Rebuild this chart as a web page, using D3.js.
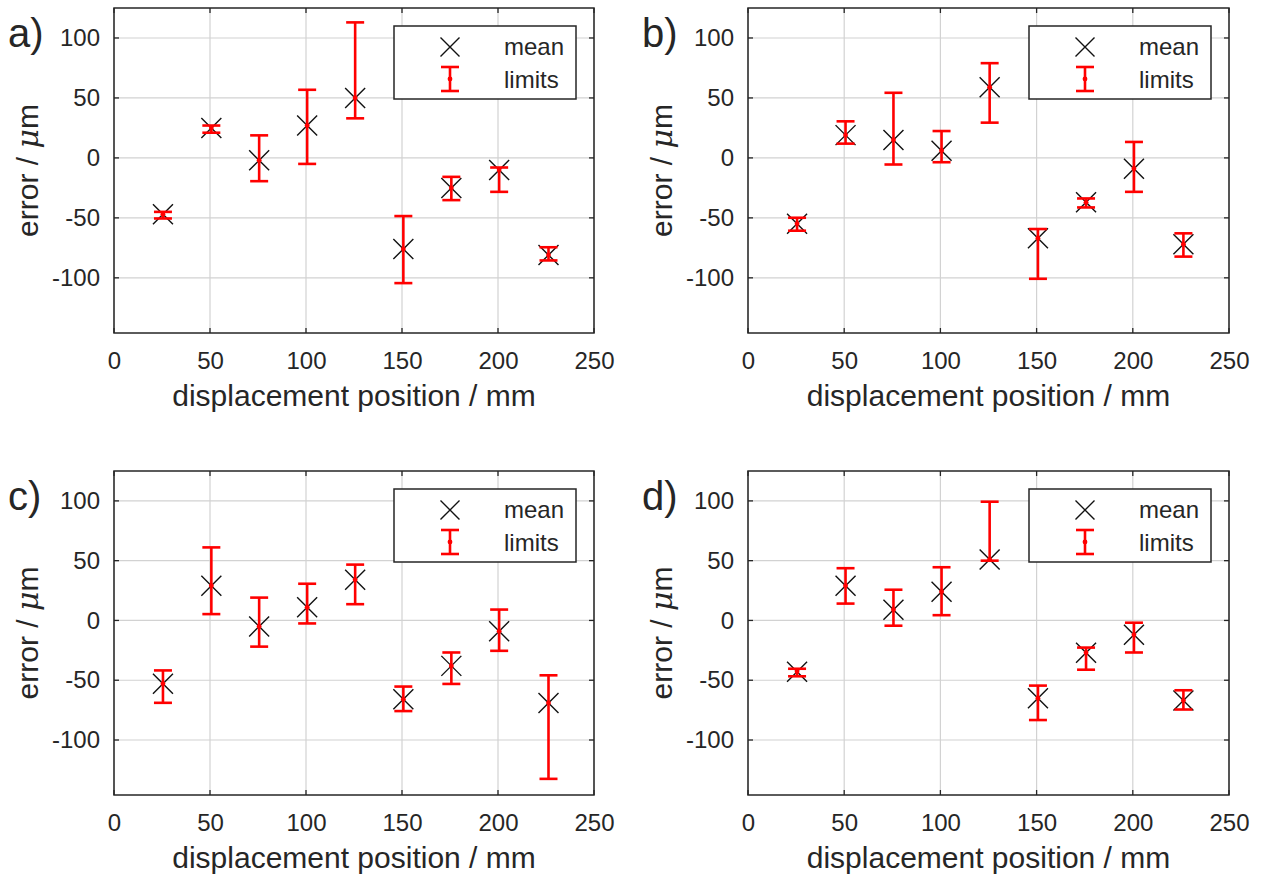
<!DOCTYPE html>
<html><head><meta charset="utf-8">
<script src="https://cdn.jsdelivr.net/npm/d3@7"></script>
<style>
body{margin:0;background:#fff}
svg{display:block}
text{font-family:"Liberation Sans",Arial,sans-serif;fill:#262626}
</style>
</head><body>
<svg id="chart" width="1263" height="880"></svg>
<script>
// ---- data ----
const positions = [25.5, 50.7, 75.6, 100.6, 125.6, 150.7, 175.7, 200.6, 226.3];
const xTicks = [0, 50, 100, 150, 200, 250];
const yTicks = [-100, -50, 0, 50, 100];
const panelLabels = ["a)", "b)", "c)", "d)"];
const legendLabels = ["mean", "limits"];
const xTitle = "displacement position / mm";

const meanA = [-47, 25, -2, 27, 50, -76, -25, -10, -81];
const lowA  = [-50.5, 21, -19.4, -5, 33, -104.4, -35.2, -28.3, -85.5];
const highA = [-45, 27, 18.8, 56.8, 113, -48.5, -15.8, -8, -74.5];

const meanB = [-55, 19, 15, 6, 59, -67, -37, -9, -72];
const lowB  = [-60.7, 11.9, -5.5, -3.6, 29.4, -100.8, -41.3, -28.3, -82.3];
const highB = [-49.9, 30.5, 54.3, 22.4, 79, -59.3, -33.8, 13.3, -62.9];

const meanC = [-53, 29, -5, 11, 34, -66, -38, -9, -69];
const lowC  = [-68.9, 5.3, -21.9, -2.5, 13.6, -75.8, -53.1, -25.4, -132.5];
const highC = [-41.8, 61.1, 19.1, 30.7, 46.7, -55.3, -26.8, 9.1, -45.9];

const meanD = [-43, 29, 9, 24, 51, -65, -27, -12, -67];
const lowD  = [-46.7, 14.1, -4.4, 4.4, 50, -83.3, -41.2, -26.8, -74.5];
const highD = [-40.4, 43.7, 25.7, 44.5, 99.3, -54.5, -22.7, -1.9, -58.4];

const xDomain = [0, 250];
const yDomain = [-146, 125];

// ---- layout ----
const layout = [
  {left: 114, right: 594, top: 8, bottom: 333},
  {left: 748, right: 1229, top: 8, bottom: 333},
  {left: 114, right: 594, top: 471, bottom: 795},
  {left: 748, right: 1229, top: 471, bottom: 795}
];
const series = [
  [meanA, lowA, highA], [meanB, lowB, highB], [meanC, lowC, highC], [meanD, lowD, highD]
];

const svg = d3.select("#chart");
const RED = "#ff0000", FRAME = "#262626", GRID = "#d2d2d2";

function xPath(cx, cy, h) {
  return `M${cx-h},${cy-h}L${cx+h},${cy+h}M${cx-h},${cy+h}L${cx+h},${cy-h}`;
}
function drawErrBar(g, cx, y1, y2, ym, cap) {
  g.append("line").attr("x1", cx).attr("x2", cx).attr("y1", y1).attr("y2", y2)
    .attr("stroke", RED).attr("stroke-width", 2.6);
  [y1, y2].forEach(yy => g.append("line").attr("x1", cx-cap).attr("x2", cx+cap)
    .attr("y1", yy).attr("y2", yy).attr("stroke", RED).attr("stroke-width", 2.6));
  g.append("circle").attr("cx", cx).attr("cy", ym).attr("r", 2.4).attr("fill", RED);
}

layout.forEach((L, i) => {
  const [means, lows, highs] = series[i];
  const x = d3.scaleLinear().domain(xDomain).range([L.left, L.right]);
  const y = d3.scaleLinear().domain(yDomain).range([L.bottom, L.top]);
  const g = svg.append("g");

  // grid
  g.append("g").selectAll("line").data(xTicks).join("line")
    .attr("x1", d => x(d)).attr("x2", d => x(d)).attr("y1", L.top).attr("y2", L.bottom)
    .attr("stroke", GRID).attr("stroke-width", 1.2);
  g.append("g").selectAll("line").data(yTicks).join("line")
    .attr("y1", d => y(d)).attr("y2", d => y(d)).attr("x1", L.left).attr("x2", L.right)
    .attr("stroke", GRID).attr("stroke-width", 1.2);

  // axes labels
  const ax = g.append("g").attr("transform", `translate(0,${L.bottom})`)
    .call(d3.axisBottom(x).tickValues(xTicks).tickSize(0).tickPadding(19).tickFormat(d => String(d)));
  ax.select(".domain").remove();
  ax.selectAll("text").attr("font-size", 24).attr("font-family", null).style("fill", "#262626");
  const ay = g.append("g").attr("transform", `translate(${L.left},0)`)
    .call(d3.axisLeft(y).tickValues(yTicks).tickSize(0).tickPadding(14).tickFormat(d => String(d)));
  ay.select(".domain").remove();
  ay.selectAll("text").attr("font-size", 24).attr("font-family", null).style("fill", "#262626");

  // inward ticks on all sides
  const tk = 5;
  xTicks.forEach(t => {
    g.append("line").attr("x1", x(t)).attr("x2", x(t)).attr("y1", L.bottom).attr("y2", L.bottom - tk).attr("stroke", FRAME).attr("stroke-width", 1.3);
    g.append("line").attr("x1", x(t)).attr("x2", x(t)).attr("y1", L.top).attr("y2", L.top + tk).attr("stroke", FRAME).attr("stroke-width", 1.3);
  });
  yTicks.forEach(t => {
    g.append("line").attr("y1", y(t)).attr("y2", y(t)).attr("x1", L.left).attr("x2", L.left + tk).attr("stroke", FRAME).attr("stroke-width", 1.3);
    g.append("line").attr("y1", y(t)).attr("y2", y(t)).attr("x1", L.right).attr("x2", L.right - tk).attr("stroke", FRAME).attr("stroke-width", 1.3);
  });

  // frame
  g.append("rect").attr("x", L.left).attr("y", L.top).attr("width", L.right - L.left).attr("height", L.bottom - L.top)
    .attr("fill", "none").attr("stroke", FRAME).attr("stroke-width", 1.5);

  // mean markers
  g.append("g").selectAll("path").data(positions).join("path")
    .attr("d", (d, j) => xPath(x(d), y(means[j]), 10))
    .attr("stroke", "#111").attr("stroke-width", 1.4).attr("fill", "none");

  // limits error bars (dot at the mean)
  const eb = g.append("g");
  positions.forEach((p, j) => drawErrBar(eb, x(p), y(highs[j]), y(lows[j]), y(means[j]), 9));

  // legend
  const lx = L.right - 200, ly = L.top + 18;
  const lg = g.append("g");
  lg.append("rect").attr("x", lx).attr("y", ly).attr("width", 182).attr("height", 73)
    .attr("fill", "#fff").attr("stroke", FRAME).attr("stroke-width", 1.5);
  lg.append("path").attr("d", xPath(lx + 56, ly + 21, 9.5)).attr("stroke", "#111").attr("stroke-width", 1.4).attr("fill", "none");
  drawErrBar(lg, lx + 56, ly + 41, ly + 65, ly + 53, 9);
  lg.append("text").attr("x", lx + 110).attr("y", ly + 29).attr("font-size", 24).text(legendLabels[0]);
  lg.append("text").attr("x", lx + 110).attr("y", ly + 62).attr("font-size", 24).text(legendLabels[1]);

  // axis titles
  g.append("text").attr("x", (L.left + L.right) / 2).attr("y", L.bottom + 73)
    .attr("text-anchor", "middle").attr("font-size", 30).text(xTitle);
  const yt = g.append("text").attr("transform", `translate(${L.left - 76},${(L.top + L.bottom) / 2}) rotate(-90)`)
    .attr("text-anchor", "middle").attr("font-size", 30);
  yt.append("tspan").text("error / ");
  yt.append("tspan").attr("font-style", "italic").attr("font-family", "DejaVu Serif, serif").text("μ");
  yt.append("tspan").text("m");

  // panel label
  g.append("text").attr("x", L.left - 106).attr("y", L.top + 39).attr("font-size", 40).text(panelLabels[i]);
});
</script>
</body></html>
